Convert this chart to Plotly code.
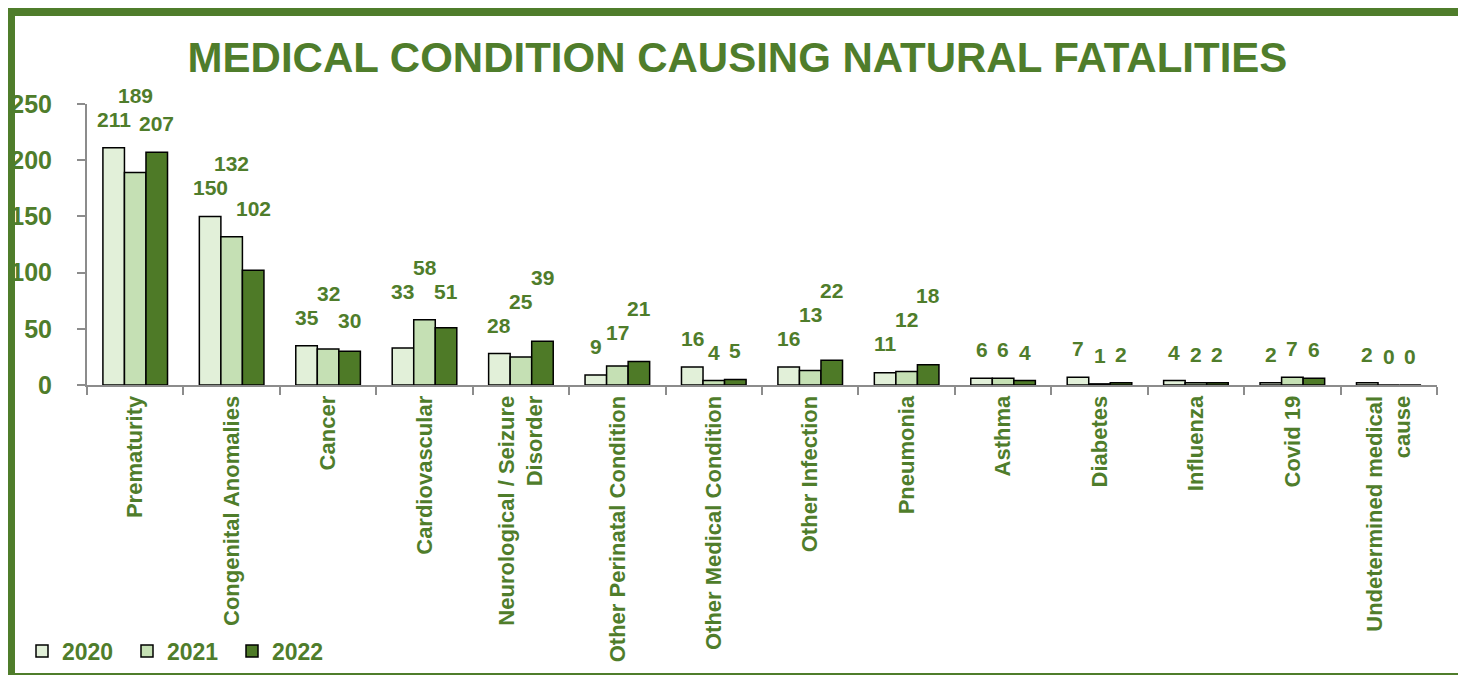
import plotly.graph_objects as go

# Medical conditions causing natural fatalities, 2020-2022
categories = ["Prematurity", "Congenital Anomalies", "Cancer", "Cardiovascular",
              "Neurological / Seizure<br>Disorder", "Other Perinatal Condition",
              "Other Medical Condition", "Other Infection", "Pneumonia", "Asthma",
              "Diabetes", "Influenza", "Covid 19", "Undetermined medical<br>cause"]
y2020 = [211, 150, 35, 33, 28, 9, 16, 16, 11, 6, 7, 4, 2, 2]
y2021 = [189, 132, 32, 58, 25, 17, 4, 13, 12, 6, 1, 2, 7, 0]
y2022 = [207, 102, 30, 51, 39, 21, 5, 22, 18, 4, 2, 2, 6, 0]
years = ["2020", "2021", "2022"]
y_ticks = [0, 50, 100, 150, 200, 250]

GREEN = "#4F7D2B"
fills = ["#E2F0D9", "#C5E0B4", "#4E7A27"]
FONT = "Liberation Sans, Arial, sans-serif"

# the page body adds an 8px margin, so the figure is 8px smaller and shifted
OFF = 8
W, H = 1466 - OFF, 675 - OFF
ml, mt = 87 - OFF, 104 - OFF
mr = W - (1437 - OFF)
mb = H - (385 - OFF)
plot_w, plot_h = W - ml - mr, H - mt - mb
bargap = 0.33

fig = go.Figure()
for name, vals, col in zip(years, [y2020, y2021, y2022], fills):
    fig.add_trace(go.Bar(x=categories, y=vals, name=name,
                         marker=dict(color=col, line=dict(color="black", width=1.5))))

# data labels: outside end, nudged up when they would collide (like the original)
ppu = plot_h / 250
cat_w = plot_w / len(categories)
bar_w = cat_w * (1 - bargap) / 3
lab_size = 21
digit_w, lab_h, pad = 0.556 * lab_size, 24, 15
for i, cat in enumerate(categories):
    vals = [y2020[i], y2021[i], y2022[i]]
    placed = []
    for j, v in enumerate(vals):
        xc = (j - 1) * bar_w
        half = len(str(v)) * digit_w / 2
        base = max(vals[k] * ppu for k in range(3)
                   if abs((k - 1) * bar_w - xc) < half + bar_w / 2) + pad
        for px, pb, ph in placed:
            if abs(px - xc) < half + ph and base < pb + lab_h and base + lab_h > pb:
                base = pb + lab_h
        placed.append((xc, base, half))
        fig.add_annotation(x=cat, y=v, xshift=xc, yshift=base - v * ppu,
                           text=str(v), showarrow=False, yanchor="bottom",
                           font=dict(family=FONT, size=lab_size, color=GREEN, weight="bold"))

# green frame around the chart (page pixel coordinates)
def px_x(p):
    return (p - OFF - ml) / plot_w

def px_y(p):
    return (H - mb - (p - OFF)) / plot_h

fig.add_shape(type="rect", xref="paper", yref="paper",
              x0=px_x(11), x1=px_x(1462.5), y0=px_y(12), y1=px_y(677),
              line=dict(color=GREEN, width=8), layer="below")

fig.update_layout(
    width=W, height=H,
    margin=dict(l=ml, r=mr, t=mt, b=mb, autoexpand=False),
    paper_bgcolor="white", plot_bgcolor="white",
    barmode="group", bargap=bargap, bargroupgap=0,
    title=dict(text="<b>MEDICAL CONDITION CAUSING NATURAL FATALITIES</b>",
               x=(737.5 - OFF) / W, xref="container", xanchor="center",
               y=1 - (57 - OFF) / H, yref="container", yanchor="middle",
               font=dict(family=FONT, size=42, color=GREEN)),
    font=dict(family=FONT, color=GREEN),
    showlegend=True,
    legend=dict(orientation="h", x=px_x(22), xanchor="left", y=px_y(651), yanchor="middle",
                font=dict(family=FONT, size=23, color=GREEN, weight="bold"),
                entrywidth=60, traceorder="normal", bgcolor="rgba(0,0,0,0)"),
)
fig.update_xaxes(showline=True, linecolor="#8C8C8C", linewidth=2, automargin=False,
                 ticks="outside", tickson="boundaries", ticklen=8, tickcolor="#8C8C8C",
                 tickwidth=2, tickangle=-90, showgrid=False,
                 tickfont=dict(family=FONT, size=22, color=GREEN, weight="bold"))
fig.update_yaxes(range=[0, 250], tickvals=y_ticks, showline=True, linecolor="#8C8C8C",
                 linewidth=2, ticks="outside", ticklen=8, tickcolor="#8C8C8C", tickwidth=2,
                 showgrid=False, zeroline=False, ticklabelstandoff=20, automargin=False,
                 tickfont=dict(family=FONT, size=25, color=GREEN, weight="bold"))

fig.write_html("out.html")
